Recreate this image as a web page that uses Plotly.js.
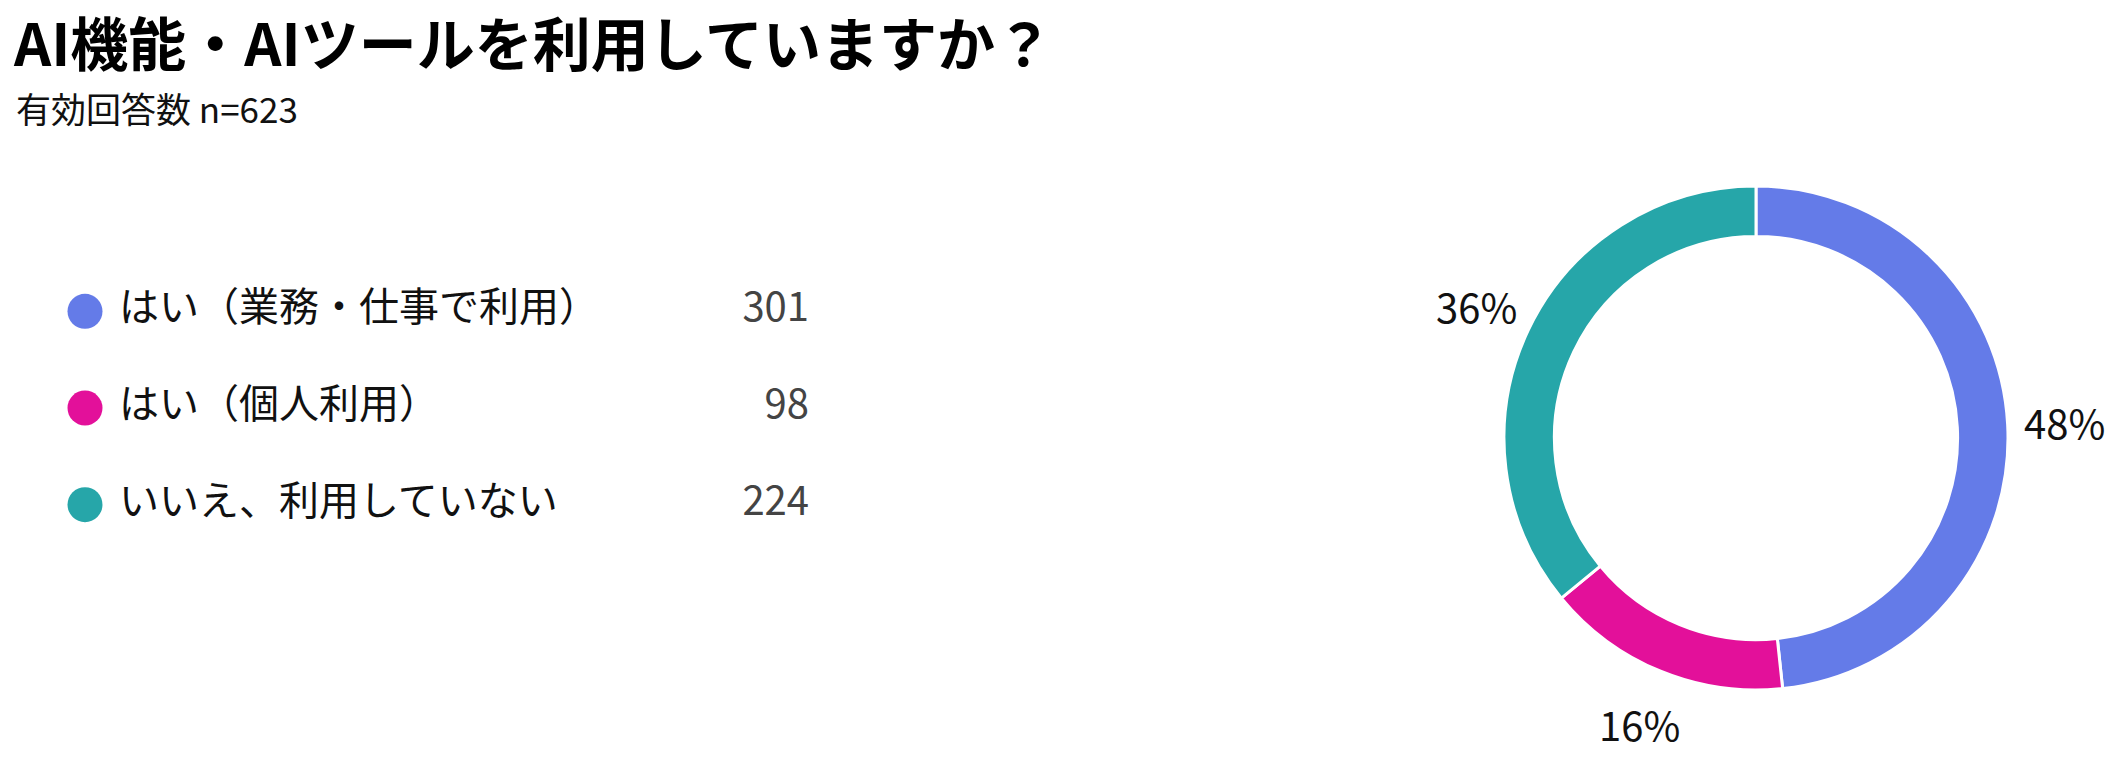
<!DOCTYPE html>
<html>
<head>
<meta charset="utf-8">
<script src="https://cdn.plot.ly/plotly-3.0.1.min.js"></script>
<style>
  html, body { margin: 0; padding: 0; background: #fff; }
  #chart { width: 2122px; height: 771px; }
</style>
</head>
<body>
<div id="chart"></div>
<script>
// survey answers (n=623)
const answers = ["はい（業務・仕事で利用）", "はい（個人利用）", "いいえ、利用していない"];
const counts = [301, 98, 224];
const colors = ["#647be8", "#e3109a", "#26a6a9"];

const W = 2122, H = 771;
const font = "Noto Sans CJK JP, Noto Sans, sans-serif";

// donut geometry (px)
const pieLeft = 1504, pieRight = 2008, pieTop = 186, pieBottom = 690;
const cx = (pieLeft + pieRight) / 2, cy = (pieTop + pieBottom) / 2;
const labelR = 309; // percent labels sit on this radius, at each slice's middle

let donut = {
    type: "pie",
    values: counts,
    labels: answers,
    sort: false,
    direction: "clockwise",
    rotation: 0,
    hole: 0.8,
    marker: { colors: colors, line: { color: "#ffffff", width: 3 } },
    textinfo: "none",
    domain: { x: [pieLeft / W, pieRight / W], y: [1 - pieBottom / H, 1 - pieTop / H] },
    showlegend: false,
    hoverinfo: "label+value+percent"
};

// percent labels around the ring
const total = counts.reduce((a, b) => a + b, 0);
let cum = 0;
let pctLabels = counts.map(v => {
    let theta = 2 * Math.PI * (cum + v / 2) / total;
    cum += v;
    return {
        text: Math.round(v / total * 100) + "%",
        xref: "paper", yref: "paper",
        x: (cx + labelR * Math.sin(theta)) / W,
        y: 1 - (cy - labelR * Math.cos(theta)) / H,
        xanchor: "center", yanchor: "middle",
        showarrow: false,
        font: { size: 40, color: "#111111", family: font }
    };
});

// custom legend: dots, labels and counts on a hidden axis
let dots = {
    type: "scatter",
    mode: "markers",
    x: answers.map(() => 85),
    y: answers,
    marker: { size: 35, color: colors },
    xaxis: "x", yaxis: "y",
    showlegend: false,
    hoverinfo: "skip"
};
let names = {
    type: "scatter",
    mode: "text",
    x: answers.map(() => 119),
    y: answers,
    text: answers,
    textposition: "middle right",
    textfont: { size: 40, color: "#111111", family: font },
    xaxis: "x", yaxis: "y",
    showlegend: false,
    hoverinfo: "skip"
};
let nums = {
    type: "scatter",
    mode: "text",
    x: answers.map(() => 809),
    y: answers,
    text: counts.map(String),
    textposition: "middle left",
    textfont: { size: 40, color: "#444444", family: font },
    xaxis: "x", yaxis: "y",
    showlegend: false,
    hoverinfo: "skip"
};

let layout = {
    width: W,
    height: H,
    margin: { l: 0, r: 0, t: 0, b: 0 },
    paper_bgcolor: "#ffffff",
    plot_bgcolor: "#ffffff",
    font: { family: font, color: "#111111" },
    title: {
        text: "<b>AI機能・AIツールを利用していますか？</b>",
        font: { size: 58, color: "#000000", family: font },
        x: 14 / W, xanchor: "left", xref: "paper",
        y: 1 - 46 / H, yanchor: "middle", yref: "container"
    },
    annotations: [{
        text: "有効回答数 n=623",
        xref: "paper", yref: "paper",
        x: 14 / W, y: 1 - 108 / H,
        xanchor: "left", yanchor: "middle",
        showarrow: false,
        font: { size: 35, color: "#111111", family: font }
    }].concat(pctLabels),
    xaxis: {
        domain: [0, 848 / W],
        range: [0, 848],
        visible: false,
        fixedrange: true
    },
    yaxis: {
        domain: [218 / H, 508 / H],
        type: "category",
        range: [2.5, -0.5],
        visible: false,
        fixedrange: true
    }
};

Plotly.newPlot("chart", [donut, dots, names, nums], layout, { displayModeBar: false, staticPlot: true });
</script>
</body>
</html>
